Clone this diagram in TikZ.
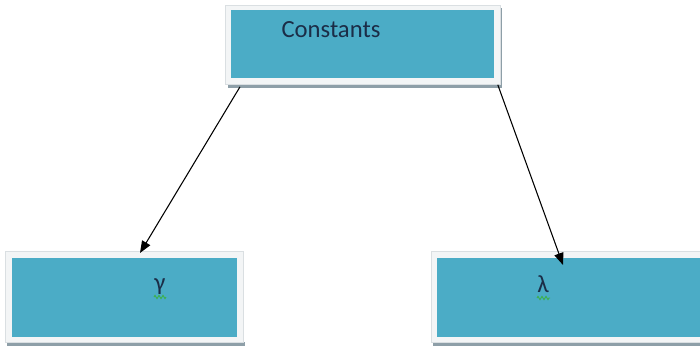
\documentclass[tikz,border=0pt]{standalone}
\usepackage{fontspec}
\setmainfont{Carlito}
\usetikzlibrary{arrows.meta,decorations.pathmorphing,calc}
\definecolor{teal1}{HTML}{4BACC6}
\definecolor{frameC}{HTML}{F3F5F6}
\definecolor{frameB}{HTML}{DADFE2}
\definecolor{shadowC}{HTML}{8E9FA8}
\definecolor{txtC}{HTML}{1B2D47}
\definecolor{sqC}{HTML}{3CB04A}
\tikzset{
  frame/.style={draw=frameB,fill=frameC,line width=0.6pt,inner sep=0pt,anchor=north west},
  tealbox/.style={fill=teal1,draw=none,inner sep=0pt,anchor=north west},
  shadowbar/.style={fill=shadowC,draw=none,inner sep=0pt,anchor=north west},
  lbl/.style={text=txtC,font=\fontsize{18.5}{22}\selectfont,inner sep=0pt},
  squig/.style={draw=sqC,line width=0.7pt,decorate,decoration={zigzag,amplitude=1.2pt,segment length=3pt}},
  conn/.style={draw=black,line width=0.8pt,-{Triangle[length=9pt,width=7pt]}}
}
\begin{document}
\begin{tikzpicture}[x=0.75pt,y=-0.75pt]
\useasboundingbox (0,0) rectangle (700,347);
% top box
\node[shadowbar,minimum width=274*0.75pt,minimum height=4*0.75pt] (tsh) at (228,84) {};
\node[shadowbar,minimum width=2*0.75pt,minimum height=78*0.75pt] (tshr) at (500,8) {};
\node[frame,minimum width=275*0.75pt,minimum height=79*0.75pt] (tf) at (225,5) {};
\node[tealbox,minimum width=263*0.75pt,minimum height=68*0.75pt] (top) at (231,10) {};
\node[lbl,anchor=base] (ttxt) at (331,37) {Constants};
% bottom left
\node[shadowbar,minimum width=238*0.75pt,minimum height=4*0.75pt] (lsh) at (7,342) {};
\node[frame,minimum width=238*0.75pt,minimum height=91*0.75pt] (lf) at (5,251) {};
\node[tealbox,minimum width=225*0.75pt,minimum height=79*0.75pt] (left) at (12,258) {};
\node[lbl,anchor=base] (ltxt) at (160,290) {γ};
\draw[squig] (154,297) -- (166,297);
% bottom right
\node[shadowbar,minimum width=269*0.75pt,minimum height=4*0.75pt] (rsh) at (433,342) {};
\node[frame,minimum width=270*0.75pt,minimum height=91*0.75pt] (rf) at (431,251) {};
\node[tealbox,minimum width=263*0.75pt,minimum height=79*0.75pt] (right) at (437,258) {};
\node[lbl,anchor=base] (rtxt) at (543,292) {λ};
\draw[squig] (537,298) -- (550,298);
% connectors
\coordinate (s1) at ($(tf.south west)+(15,2)$);
\coordinate (e1) at ($(lf.north west)+(135,2)$);
\coordinate (s2) at ($(tf.south east)+(-3,0)$);
\coordinate (e2) at ($(rf.north west)+(132,14)$);
\draw[conn] (s1) -- (e1);
\draw[conn] (s2) -- (e2);
\end{tikzpicture}
\end{document}
